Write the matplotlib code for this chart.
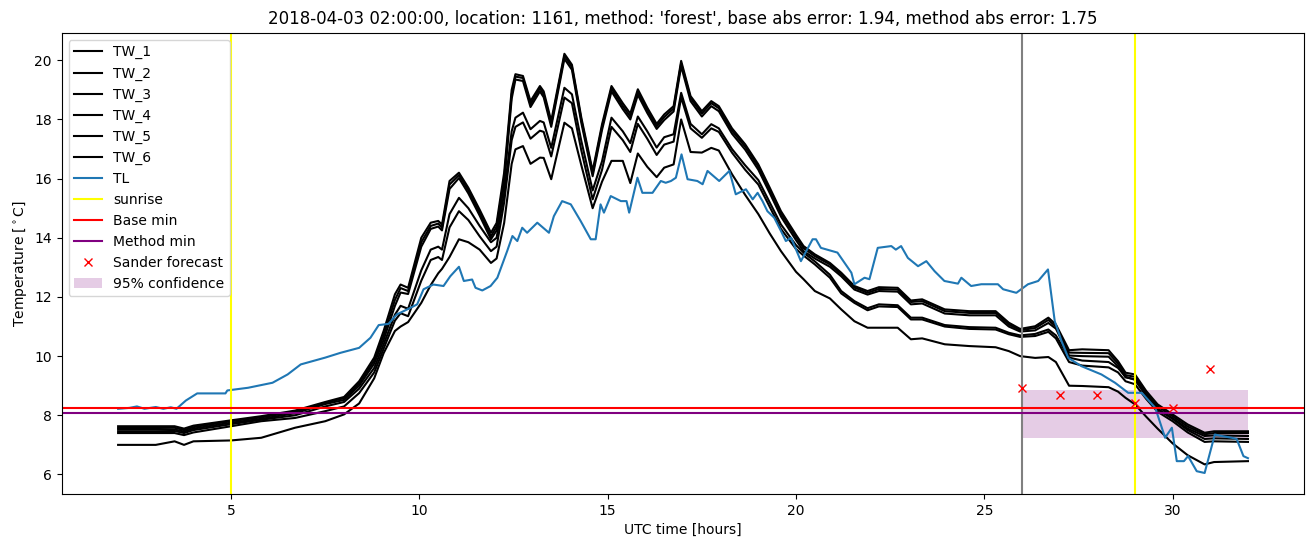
import matplotlib
matplotlib.use("Agg")
import matplotlib.pyplot as plt

# hours (UTC) for the six TW sensors
tw_hours = [2.0, 3.0, 3.5, 3.75, 4.0, 5.0, 5.8, 6.7, 7.5, 8.0,
            8.4, 8.8, 9.05, 9.35, 9.5, 9.7, 10.05, 10.3, 10.5, 10.6,
            10.8, 11.05, 11.3, 11.6, 11.9, 12.05, 12.25, 12.45, 12.55, 12.75,
            12.95, 13.2, 13.3, 13.5, 13.85, 14.05, 14.3, 14.6, 14.85, 15.1,
            15.4, 15.6, 15.8, 16.05, 16.3, 16.5, 16.75, 16.95, 17.2, 17.5,
            17.75, 17.95, 18.3, 18.65, 19.0, 19.3, 19.6, 20.0, 20.2, 20.5,
            20.9, 21.2, 21.55, 21.9, 22.2, 22.7, 23.05, 23.35, 23.95, 24.6,
            25.3, 25.65, 25.95, 26.35, 26.7, 26.9, 27.25, 27.6, 28.3, 28.55,
            28.75, 29.0, 29.3, 29.6, 30.0, 30.4, 30.85, 31.1, 32.0]

tw_1 = [7.63, 7.63, 7.63, 7.55, 7.65, 7.83, 7.97, 8.16, 8.45, 8.62,
        9.15, 9.95, 10.85, 12.09, 12.42, 12.31, 14.0, 14.51, 14.57, 14.45,
        15.92, 16.2, 15.69, 14.95, 14.17, 14.5, 16.2, 19.0, 19.53, 19.47,
        18.62, 19.13, 18.95, 17.95, 20.22, 19.85, 18.06, 16.26, 17.84, 19.13,
        18.55, 18.2, 19.02, 18.4, 17.85, 18.17, 18.45, 19.98, 18.79, 18.28,
        18.62, 18.45, 17.7, 17.16, 16.48, 15.7, 14.9, 14.1, 13.72, 13.44,
        13.15, 12.82, 12.37, 12.2, 12.33, 12.31, 11.88, 11.92, 11.58, 11.52,
        11.52, 11.13, 10.92, 11.01, 11.3, 11.07, 10.2, 10.23, 10.2, 9.83,
        9.44, 9.38, 8.82, 8.37, 8.03, 7.69, 7.41, 7.46, 7.46]

tw_2 = [7.57, 7.57, 7.58, 7.5, 7.6, 7.8, 7.93, 8.12, 8.42, 8.58,
        9.08, 9.85, 10.7, 11.9, 12.3, 12.2, 13.85, 14.4, 14.48, 14.35,
        15.8, 16.12, 15.6, 14.85, 14.05, 14.38, 16.0, 18.85, 19.45, 19.4,
        18.52, 19.05, 18.85, 17.85, 20.15, 19.78, 17.98, 16.18, 17.75, 19.05,
        18.45, 18.1, 18.93, 18.32, 17.77, 18.08, 18.37, 19.9, 18.72, 18.2,
        18.55, 18.38, 17.62, 17.08, 16.4, 15.62, 14.82, 14.02, 13.65, 13.38,
        13.1, 12.77, 12.32, 12.14, 12.27, 12.25, 11.83, 11.86, 11.52, 11.46,
        11.46, 11.07, 10.88, 10.95, 11.22, 11.0, 10.12, 10.11, 10.1, 9.75,
        9.36, 9.3, 8.75, 8.3, 7.97, 7.62, 7.36, 7.4, 7.4]

tw_3 = [7.52, 7.52, 7.52, 7.45, 7.55, 7.75, 7.88, 8.07, 8.38, 8.52,
        9.0, 9.75, 10.55, 11.7, 12.15, 12.1, 13.7, 14.3, 14.38, 14.25,
        15.65, 16.02, 15.5, 14.75, 13.95, 14.25, 15.8, 18.7, 19.35, 19.3,
        18.42, 18.95, 18.75, 17.75, 20.05, 19.68, 17.88, 16.08, 17.65, 18.95,
        18.35, 18.0, 18.83, 18.22, 17.68, 17.98, 18.27, 19.8, 18.62, 18.1,
        18.45, 18.28, 17.52, 16.98, 16.3, 15.52, 14.72, 13.92, 13.55, 13.3,
        13.02, 12.7, 12.25, 12.08, 12.2, 12.18, 11.75, 11.78, 11.44, 11.38,
        11.38, 11.0, 10.83, 10.87, 11.12, 10.93, 10.02, 10.0, 9.98, 9.66,
        9.28, 9.22, 8.68, 8.22, 7.9, 7.55, 7.3, 7.32, 7.3]

tw_4 = [7.46, 7.46, 7.47, 7.4, 7.5, 7.7, 7.85, 8.0, 8.3, 8.45,
        8.9, 9.6, 10.4, 11.4, 11.7, 11.6, 12.9, 13.6, 13.7, 13.6,
        14.8, 15.35, 15.0, 14.4, 13.85, 14.0, 15.5, 17.6, 18.06, 18.23,
        17.67, 17.95, 17.9, 17.04, 19.07, 18.85, 17.27, 15.6, 16.59, 18.06,
        17.6, 17.2, 18.1, 17.6, 17.05, 17.4, 17.5, 18.9, 17.85, 17.5,
        17.84, 17.7, 17.0, 16.45, 15.95, 15.2, 14.45, 13.75, 13.5, 13.2,
        12.75, 12.2, 11.86, 11.62, 11.75, 11.72, 11.3, 11.3, 11.05, 10.98,
        10.96, 10.79, 10.7, 10.75, 10.9, 10.7, 9.95, 9.85, 9.8, 9.6,
        9.3, 9.2, 8.65, 8.2, 7.88, 7.5, 7.2, 7.22, 7.2]

tw_5 = [7.4, 7.4, 7.4, 7.33, 7.42, 7.63, 7.8, 7.91, 8.14, 8.3,
        8.75, 9.45, 10.25, 11.2, 11.45, 11.35, 12.55, 13.25, 13.35, 13.25,
        14.35, 14.9, 14.6, 14.05, 13.55, 13.7, 15.2, 17.3, 17.75, 17.9,
        17.35, 17.62, 17.58, 16.75, 18.74, 18.55, 16.95, 15.3, 16.3, 17.75,
        17.3, 16.9, 17.85, 17.35, 16.8, 17.15, 17.25, 18.75, 17.7, 17.38,
        17.7, 17.58, 16.88, 16.3, 15.8, 15.05, 14.3, 13.62, 13.4, 13.1,
        12.65, 12.12, 11.8, 11.55, 11.68, 11.66, 11.24, 11.24, 11.0, 10.92,
        10.9, 10.74, 10.65, 10.68, 10.82, 10.6, 9.8, 9.68, 9.62, 9.45,
        9.15, 9.05, 8.55, 8.12, 7.8, 7.42, 7.1, 7.12, 7.1]

tw_6 = [7.0, 7.0, 7.12, 7.0, 7.12, 7.15, 7.24, 7.58, 7.8, 8.03,
        8.4, 9.25, 10.1, 10.85, 11.0, 11.15, 11.8, 12.4, 12.8, 12.95,
        13.35, 13.95, 13.85, 13.6, 13.15, 13.3, 14.5, 16.5, 16.99, 17.1,
        16.5, 16.71, 16.7, 15.98, 17.89, 17.7, 16.45, 15.0, 15.9, 16.6,
        16.6, 15.85, 16.85, 16.4, 16.05, 16.37, 16.48, 18.0, 16.9, 16.88,
        17.04, 16.95, 16.15, 15.45, 14.8, 14.15, 13.55, 12.85, 12.6, 12.2,
        11.95, 11.58, 11.18, 10.96, 10.96, 10.96, 10.57, 10.6, 10.4, 10.34,
        10.3, 10.17, 10.0, 9.94, 9.97, 9.8, 9.0, 8.99, 8.95, 8.8,
        8.59, 8.37, 7.95, 7.55, 7.05, 6.65, 6.34, 6.42, 6.45]

# TL air temperature
tl_hours = [2.0, 2.3, 2.5, 2.7, 3.0, 3.2, 3.4, 3.55, 3.8, 4.1,
            4.85, 4.9, 5.45, 6.1, 6.5, 6.85, 7.5, 7.9, 8.4, 8.7,
            8.92, 9.18, 9.4, 9.76, 9.94, 10.11, 10.37, 10.64, 10.82, 11.05,
            11.18, 11.4, 11.49, 11.67, 11.89, 12.07, 12.33, 12.47, 12.6, 12.73,
            12.86, 13.13, 13.44, 13.57, 13.79, 14.02, 14.28, 14.55, 14.68, 14.81,
            14.9, 15.08, 15.35, 15.5, 15.57, 15.79, 15.92, 16.19, 16.41, 16.54,
            16.68, 16.81, 16.96, 17.12, 17.38, 17.52, 17.65, 17.96, 18.23, 18.4,
            18.67, 18.85, 18.98, 19.11, 19.24, 19.42, 19.6, 19.73, 19.87, 20.13,
            20.44, 20.53, 20.66, 21.1, 21.47, 21.55, 21.82, 21.95, 22.17, 22.53,
            22.65, 22.79, 22.97, 23.24, 23.46, 23.68, 23.94, 24.3, 24.39, 24.65,
            24.92, 25.36, 25.5, 25.85, 26.16, 26.43, 26.69, 26.87, 27.05, 27.23,
            27.58, 28.11, 28.47, 28.82, 29.18, 29.54, 29.8, 29.98, 30.11, 30.3,
            30.41, 30.64, 30.85, 31.12, 31.3, 31.57, 31.7, 31.88, 32.0]

tl = [8.22, 8.25, 8.3, 8.22, 8.28, 8.22, 8.27, 8.22, 8.5, 8.74,
      8.74, 8.84, 8.93, 9.1, 9.38, 9.72, 9.95, 10.11, 10.28, 10.62,
      11.05, 11.09, 11.41, 11.63, 11.75, 12.26, 12.42, 12.37, 12.7, 13.02,
      12.54, 12.59, 12.31, 12.22, 12.37, 12.65, 13.55, 14.06, 13.89, 14.34,
      14.17, 14.51, 14.17, 14.73, 15.24, 15.13, 14.57, 13.95, 13.95, 15.13,
      14.85, 15.41, 15.24, 15.24, 14.85, 16.03, 15.52, 15.52, 15.92, 15.86,
      15.92, 16.03, 16.82, 15.98, 15.92, 15.81, 16.26, 15.92, 16.26, 15.47,
      15.64, 15.3, 15.52, 15.24, 14.9, 14.68, 14.23, 13.89, 14.0, 13.21,
      13.95, 13.95, 13.66, 13.5, 12.82, 12.43, 12.65, 12.6, 13.66, 13.72,
      13.6, 13.72, 13.32, 13.04, 13.21, 12.87, 12.54, 12.45, 12.65, 12.37,
      12.43, 12.43, 12.26, 12.14, 12.43, 12.54, 12.93, 11.18, 10.51, 9.94,
      9.66, 9.38, 9.1, 8.76, 8.76, 8.25, 7.24, 7.58, 6.45, 6.45,
      6.62, 6.11, 6.05, 7.35, 7.3, 7.24, 7.2, 6.62, 6.55]

sunrise_hours = [5.0, 29.0]
forecast_start = 26.0
base_min = 8.24
method_min = 8.07

sander_hours = [26, 27, 28, 29, 30, 31]
sander_temp = [8.93, 8.70, 8.70, 8.42, 8.25, 9.55]

conf_hours = [26, 32]
conf_low = [7.22, 7.22]
conf_high = [8.85, 8.85]

fig = plt.figure(figsize=(13.11, 5.47), dpi=100)
ax = fig.add_axes([0.047, 0.097, 0.948, 0.843])

tw_all = [tw_1, tw_2, tw_3, tw_4, tw_5, tw_6]
for i, tw in enumerate(tw_all):
    ax.plot(tw_hours, tw, color='black', label='TW_%d' % (i + 1))
ax.plot(tl_hours, tl, color='C0', label='TL')

ax.axvline(sunrise_hours[0], color='yellow', label='sunrise')
ax.axvline(sunrise_hours[1], color='yellow')
ax.axvline(forecast_start, color='grey')
ax.axhline(base_min, color='red', label='Base min')
ax.axhline(method_min, color='purple', label='Method min')
ax.plot(sander_hours, sander_temp, 'x', color='red', label='Sander forecast')
ax.fill_between(conf_hours, conf_low, conf_high, color='purple', alpha=0.2,
                linewidth=0, label='95% confidence')

ax.set_xlabel('UTC time [hours]')
ax.set_ylabel(r'Temperature [$^\circ$C]')
ax.set_title("2018-04-03 02:00:00, location: 1161, method: 'forest', "
             "base abs error: 1.94, method abs error: 1.75")
ax.legend(loc='upper left')

fig.savefig('out.png', dpi=100)
